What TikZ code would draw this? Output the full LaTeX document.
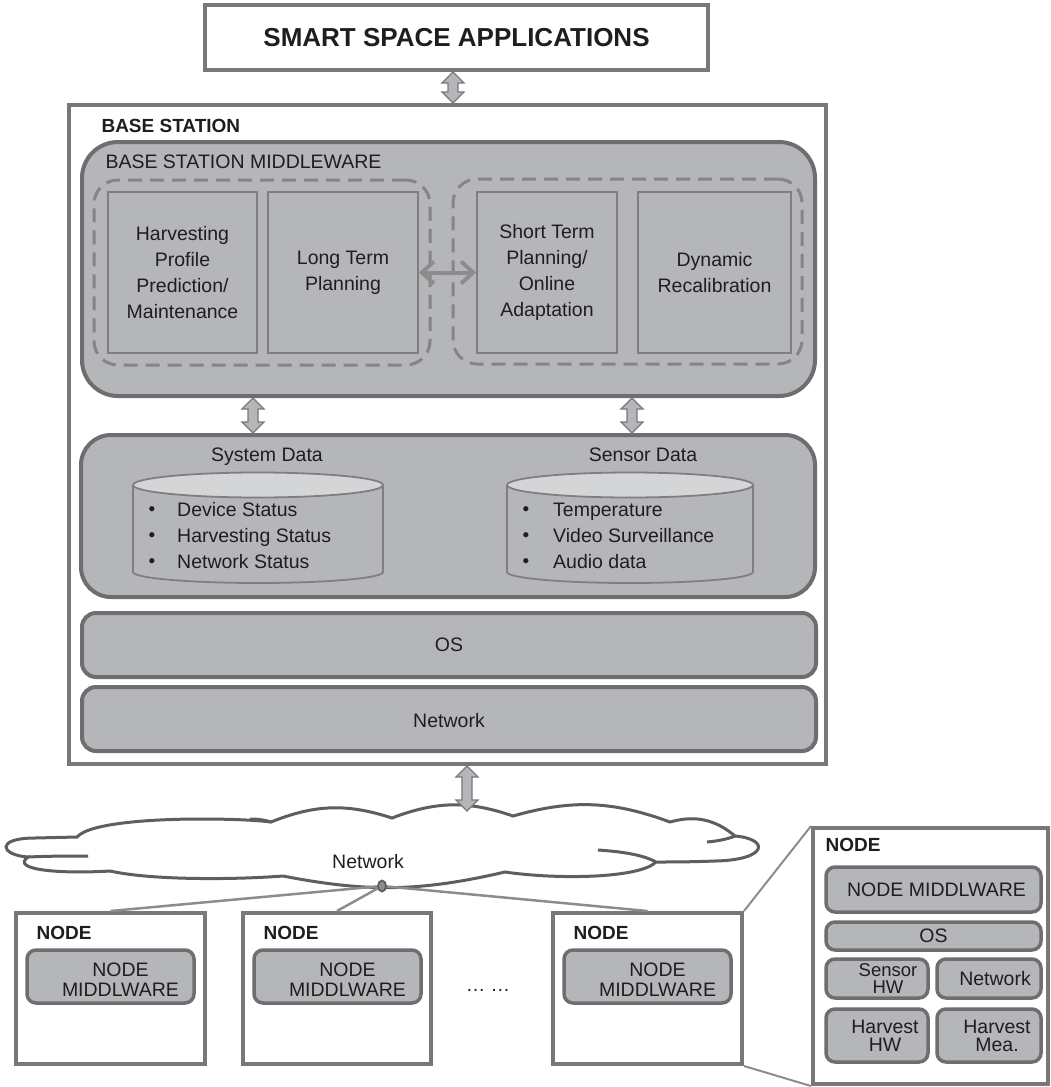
\documentclass[tikz,border=0pt]{standalone}
\usepackage{fontspec}
\setmainfont{Liberation Sans}
\usetikzlibrary{fit,calc,arrows.meta,shapes.geometric}

\definecolor{frame}{HTML}{787878}
\definecolor{rim}{HTML}{6E6E6E}
\definecolor{boxfill}{HTML}{B5B6BA}
\definecolor{topfill}{HTML}{D4D5D7}
\definecolor{thinline}{HTML}{7F7F7F}
\definecolor{dashline}{HTML}{858585}
\definecolor{ink}{HTML}{1E1E1E}
\definecolor{linkline}{HTML}{8C8C8C}
\definecolor{cloudline}{HTML}{5E5E5E}

\newcommand\bodyfont{\fontsize{19.5}{26}\selectfont}
\newcommand\headfont{\fontsize{19}{22}\selectfont\bfseries}

\begin{document}
\begin{tikzpicture}[x=1pt,y=-1pt,
  every node/.style={font=\bodyfont, text=ink},
  outerbox/.style={draw=frame, line width=4pt, fill=white, inner sep=0pt},
  layerbox/.style={draw=rim, line width=4pt, fill=boxfill, inner sep=0pt},
  nodebox/.style={draw=rim, line width=3.5pt, fill=boxfill, inner sep=0pt, rounded corners=9pt},
  taskbox/.style={draw=thinline, line width=1.8pt, fill=boxfill, inner sep=0pt},
  boxtext/.style={align=center, inner sep=0pt},
  dashgroup/.style={draw=dashline, line width=3pt, dash pattern=on 14pt off 8pt, rounded corners=24pt, inner sep=0pt},
  cylline/.style={draw=thinline, line width=1.8pt},
  linkline/.style={draw=linkline, line width=2.5pt},
  zoomline/.style={draw=linkline, line width=2pt},
  pairarrow/.style={draw=linkline, line width=4pt,
    {Straight Barb[length=12pt,width=22pt]}-{Straight Barb[length=12pt,width=22pt]}},
  blockarrow/.style={draw=frame, fill=boxfill, line width=1.3pt, line join=miter,
    to path={let \p1=(\tikztostart), \p2=(\tikztotarget) in
      (\x1,\y1) -- (\x1+11pt,\y1-11pt) -- (\x1+5pt,\y1-11pt) -- (\x2+5pt,\y2+11pt)
      -- (\x2+11pt,\y2+11pt) -- (\x2,\y2) -- (\x2-11pt,\y2+11pt) -- (\x2-5pt,\y2+11pt)
      -- (\x1-5pt,\y1-11pt) -- (\x1-11pt,\y1-11pt) -- cycle}}
]
\useasboundingbox (0,0) rectangle (1051,1087);

% ---------- applications ----------
\node[outerbox, fit={(205,5) (708,70)}] (app) {};
\node[boxtext, font=\fontsize{26}{30}\selectfont\bfseries] at (app.center) {SMART SPACE APPLICATIONS};

% ---------- base station ----------
\node[outerbox, fit={(69,105) (826,764)}] (bs) {};
\node[anchor=west, font=\headfont] at (98,126) {BASE STATION};

% middleware layer
\node[layerbox, rounded corners=36pt, fit={(82,142) (815,396)}] (mw) {};
\node[anchor=base west] at (102,168) {BASE STATION MIDDLEWARE};
\node[dashgroup, fit={(94,180) (430,365)}] (longgrp) {};
\node[dashgroup, fit={(453,179) (802,364)}] (shortgrp) {};
\node[taskbox, fit={(108,192) (257,353)}] (hp) {};
\node[taskbox, fit={(268,192) (418,353)}] (lt) {};
\node[taskbox, fit={(477,192) (617,353)}] (st) {};
\node[taskbox, fit={(638,192) (791,353)}] (dr) {};
\node[boxtext] at (hp.center) {Harvesting\\Profile\\Prediction/\\Maintenance};
\node[boxtext] at (lt.center) {Long Term\\Planning};
\node[boxtext] at (st.center) {Short Term\\Planning/\\Online\\Adaptation};
\node[boxtext] at (dr.center) {Dynamic\\Recalibration};
\draw[pairarrow] (lt.east) -- (st.west);

% data layer
\node[layerbox, rounded corners=30pt, fit={(81,435) (815,597)}] (data) {};
\node[anchor=base] at (267,461) {System Data};
\node[anchor=base] at (643,461) {Sensor Data};

% system data store
\filldraw[cylline, fill=boxfill] (258,572) ellipse[x radius=125, y radius=11];
\fill[boxfill] (133,485) rectangle (383,572);
\draw[cylline] (133,485) -- (133,572) (383,485) -- (383,572);
\filldraw[cylline, fill=topfill] (258,485) ellipse[x radius=125, y radius=12.5];
% sensor data store
\filldraw[cylline, fill=boxfill] (630,572) ellipse[x radius=123, y radius=11];
\fill[boxfill] (507,485) rectangle (753,572);
\draw[cylline] (507,485) -- (507,572) (753,485) -- (753,572);
\filldraw[cylline, fill=topfill] (630,485) ellipse[x radius=123, y radius=12.5];

\foreach \t [count=\i] in {Device Status, Harvesting Status, Network Status} {
  \node[anchor=base west, inner sep=0pt] at (177,490+26*\i) {\t};
  \node[anchor=base, inner sep=0pt, font=\fontsize{19}{19}\selectfont] at (152,489+26*\i) {•};
}
\foreach \t [count=\i] in {Temperature, Video Surveillance, Audio data} {
  \node[anchor=base west, inner sep=0pt] at (553,490+26*\i) {\t};
  \node[anchor=base, inner sep=0pt, font=\fontsize{19}{19}\selectfont] at (526,489+26*\i) {•};
}

% os and network layers
\node[layerbox, rounded corners=14pt, fit={(82,613) (816,677)}] (os) {};
\node[layerbox, rounded corners=14pt, fit={(82,687) (816,751)}] (net) {};
\node[boxtext] at (os.center) {OS};
\node[boxtext] at ([yshift=-2pt]net.center) {Network};

% vertical links between layers
\coordinate (axt) at (453,0);
\coordinate (axl) at (253,0);
\coordinate (axr) at (632,0);
\coordinate (axn) at (467,0);
\draw[blockarrow] (app.south -| axt) to (bs.north -| axt);
\draw[blockarrow] (mw.south -| axl) to (data.north -| axl);
\draw[blockarrow] (mw.south -| axr) to (data.north -| axr);

% ---------- sensor nodes ----------
\node[outerbox, fit={(16,913) (205,1064)}] (n1) {};
\node[outerbox, fit={(243,913) (431,1064)}] (n2) {};
\node[outerbox, fit={(553,913) (742,1064)}] (n3) {};
\foreach \n in {n1,n2,n3} {
  \node[anchor=west, font=\headfont] at ([shift={(19,22)}]\n.north west) {NODE};
  \node[nodebox, fit={([shift={(13,39)}]\n.north west) ([shift={(180,92)}]\n.north west)}] (\n mw) {};
  \node[boxtext, font=\fontsize{19.5}{19.5}\selectfont] at ([shift={(10,3)}]\n mw.center) {NODE\\MIDDLWARE};
}
\node (more) at (488,990) {… …};

% ---------- network cloud ----------
\coordinate (cloudtop) at (467,811);
\filldraw[draw=cloudline, fill=white, line width=3pt]
  (77,837) .. controls (90,822) and (160,819) .. (200,819)
  .. controls (230,819) and (255,820) .. (271,822)
  to[bend left=20] (392,818)
  to[bend left=20] (513,816)
  to[bend left=18] (670,822)
  to[bend left=28] (735,836)
  .. controls (770,839) and (768,860) .. (715,861)
  .. controls (690,862) and (670,862) .. (656,862)
  .. controls (640,878) and (560,880) .. (505,872)
  to[bend left=12] (283,876)
  .. controls (230,880) and (150,880) .. (110,871)
  .. controls (60,874) and (10,870) .. (28,857)
  .. controls (0,855) and (-5,838) .. (35,838)
  -- cycle;
\draw[draw=cloudline, line width=3pt]
  (735,836) .. controls (728,839) and (718,841) .. (707,842)
  (598,850) .. controls (628,852) and (645,856) .. (656,862)
  (28,857) .. controls (50,856) and (70,856) .. (88,856)
  (250,819) .. controls (258,819) and (265,820) .. (271,822);
\node at (368,862) {Network};
\draw[blockarrow] (bs.south -| axn) to (cloudtop);

% links from the network to the nodes
\coordinate (hubpt) at (382,886);
\draw[linkline] (hubpt) -- (n1.north);
\draw[linkline] (hubpt) -- (n2.north);
\draw[linkline] (hubpt) -- (n3.north);
\node[ellipse, draw=cloudline, fill=linkline, line width=1.8pt, inner sep=0pt, minimum width=8pt, minimum height=11pt] (hub) at (hubpt) {};

% ---------- node detail ----------
\node[outerbox, fit={(813,828) (1048,1084)}] (bn) {};
\draw[zoomline] (n3.north east) -- (bn.north west);
\draw[zoomline] (n3.south east) -- (bn.south west);
\node[anchor=west, font=\headfont] at (822,845) {NODE};
\node[nodebox, fit={(826,867) (1041,912)}] (bnmw) {};
\node[nodebox, fit={(826,922) (1041,950)}] (bnos) {};
\node[nodebox, fit={(826,959) (928,998)}] (bnsen) {};
\node[nodebox, fit={(937,959) (1041,998)}] (bnnet) {};
\node[nodebox, fit={(826,1009) (928,1062)}] (bnhhw) {};
\node[nodebox, fit={(937,1009) (1041,1062)}] (bnhm) {};
\node[boxtext] at ([xshift=3pt]bnmw.center) {NODE MIDDLWARE};
\node[boxtext] at (bnos.center) {OS};
\node[boxtext, font=\fontsize{18.5}{17.5}\selectfont] at ([xshift=11pt]bnsen.center) {Sensor\\HW};
\node[boxtext] at ([xshift=6pt]bnnet.center) {Network};
\node[boxtext, font=\fontsize{19.5}{18}\selectfont] at ([xshift=8pt]bnhhw.center) {Harvest\\HW};
\node[boxtext, font=\fontsize{19.5}{18}\selectfont] at ([xshift=8pt]bnhm.center) {Harvest\\Mea.};
\end{tikzpicture}
\end{document}
